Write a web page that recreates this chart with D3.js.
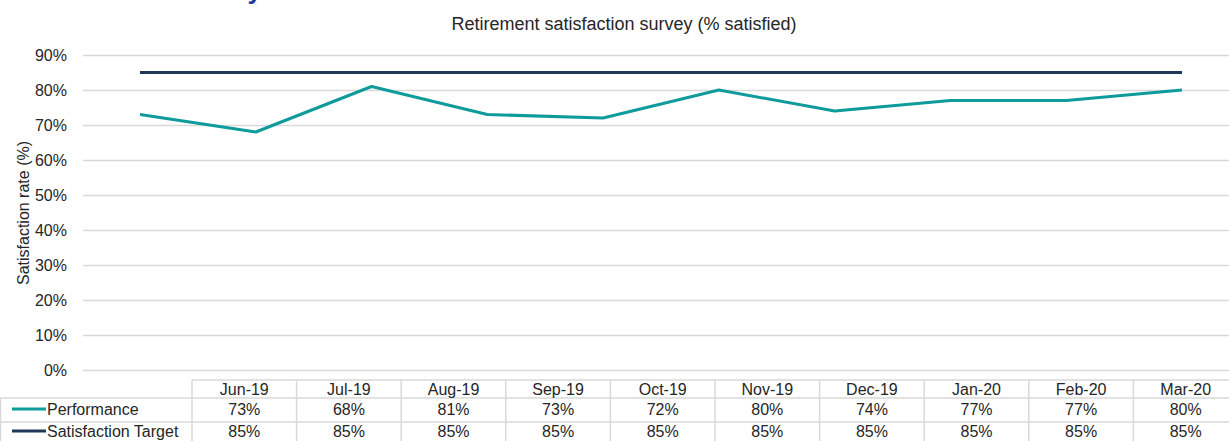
<!DOCTYPE html>
<html>
<head>
<meta charset="utf-8">
<script src="https://cdn.jsdelivr.net/npm/d3@7"></script>
<style>
  body { margin: 0; background: #fff; }
  svg { display: block; font-family: "Liberation Sans", Arial, sans-serif; }
</style>
</head>
<body>
<div id="chart"></div>
<script>
/** --- DATA --- */
const months = ['Jun-19', 'Jul-19', 'Aug-19', 'Sep-19', 'Oct-19', 'Nov-19', 'Dec-19', 'Jan-20', 'Feb-20', 'Mar-20'];
const performance = [73, 68, 81, 73, 72, 80, 74, 77, 77, 80];
const target = [85, 85, 85, 85, 85, 85, 85, 85, 85, 85];
const yTicks = [0, 10, 20, 30, 40, 50, 60, 70, 80, 90];
const seriesNames = ['Performance', 'Satisfaction Target'];

/** --- DIMENSIONS + MISC --- */
const width = 1229;
const height = 441;
const teal = '#0f9b9b';
const navy = '#1e3858';
const grid = '#d9d9d9';
const ink = '#262626';

const svg = d3.select('#chart').append('svg')
  .attr('width', width)
  .attr('height', height);

// clipped page title above the chart (only its descender shows)
svg.append('text')
  .attr('x', 262).attr('y', -1)
  .attr('text-anchor', 'end')
  .attr('fill', '#1a3aa0')
  .attr('font-weight', 'bold')
  .attr('font-size', 26)
  .text('y');

/** --- SCALES --- */
const yScale = d3.scaleLinear().domain([0, 90]).range([370, 55]);
const xScale = d3.scalePoint().domain(months).range([140, 1182]);
const colScale = d3.scaleBand().domain(months).range([192, 1238]);

/** --- GRID + AXIS --- */
svg.append('g')
  .selectAll('line')
  .data(yTicks)
  .join('line')
  .attr('x1', 83).attr('x2', width)
  .attr('y1', d => Math.round(yScale(d)) + 0.5)
  .attr('y2', d => Math.round(yScale(d)) + 0.5)
  .attr('stroke', grid)
  .attr('stroke-width', 1.5);

svg.append('g')
  .selectAll('text')
  .data(yTicks)
  .join('text')
  .attr('x', 67)
  .attr('y', d => yScale(d) + 5.5)
  .attr('text-anchor', 'end')
  .attr('font-size', 16)
  .attr('fill', ink)
  .text(d => d + '%');

svg.append('text')
  .attr('transform', 'translate(29,213) rotate(-90)')
  .attr('text-anchor', 'middle')
  .attr('font-size', 16)
  .attr('fill', ink)
  .text('Satisfaction rate (%)');

svg.append('text')
  .attr('x', 624).attr('y', 30)
  .attr('text-anchor', 'middle')
  .attr('font-size', 18)
  .attr('fill', ink)
  .text('Retirement satisfaction survey (% satisfied)');

/** --- LINES --- */
const line = d3.line()
  .x((d, i) => xScale(months[i]))
  .y(d => yScale(d));

[[target, navy], [performance, teal]].forEach(([vals, col]) => {
  svg.append('path')
    .datum(vals)
    .attr('fill', 'none')
    .attr('stroke', col)
    .attr('stroke-width', 3)
    .attr('stroke-linejoin', 'round')
    .attr('d', line);
});

/** --- DATA TABLE --- */
const rowY = [380, 398, 422, 446];
const tbl = svg.append('g').attr('stroke', grid).attr('stroke-width', 1.5);

// horizontal rules
tbl.append('line').attr('x1', 192).attr('x2', width).attr('y1', rowY[0]).attr('y2', rowY[0]);
[rowY[1], rowY[2]].forEach(y => {
  tbl.append('line').attr('x1', 0).attr('x2', width).attr('y1', y).attr('y2', y);
});
// vertical rules
const edges = months.map(m => colScale(m));
tbl.selectAll('line.v')
  .data(edges)
  .join('line')
  .attr('class', 'v')
  .attr('x1', d => d).attr('x2', d => d)
  .attr('y1', rowY[0]).attr('y2', height);
tbl.append('line').attr('x1', 0.5).attr('x2', 0.5).attr('y1', rowY[1]).attr('y2', height);

// header
svg.append('g')
  .selectAll('text')
  .data(months)
  .join('text')
  .attr('x', d => colScale(d) + colScale.bandwidth() / 2)
  .attr('y', 395)
  .attr('text-anchor', 'middle')
  .attr('font-size', 16)
  .attr('fill', ink)
  .text(d => d);

// rows
[[performance, teal, 415], [target, navy, 437]].forEach(([vals, col, y], r) => {
  svg.append('line')
    .attr('x1', 12).attr('x2', 46)
    .attr('y1', y - 6).attr('y2', y - 6)
    .attr('stroke', col)
    .attr('stroke-width', 3);
  svg.append('text')
    .attr('x', 47).attr('y', y)
    .attr('font-size', 16)
    .attr('fill', ink)
    .text(seriesNames[r]);
  svg.append('g')
    .selectAll('text')
    .data(vals)
    .join('text')
    .attr('x', (d, i) => colScale(months[i]) + colScale.bandwidth() / 2)
    .attr('y', y)
    .attr('text-anchor', 'middle')
    .attr('font-size', 16)
    .attr('fill', ink)
    .text(d => d + '%');
});
</script>
</body>
</html>
